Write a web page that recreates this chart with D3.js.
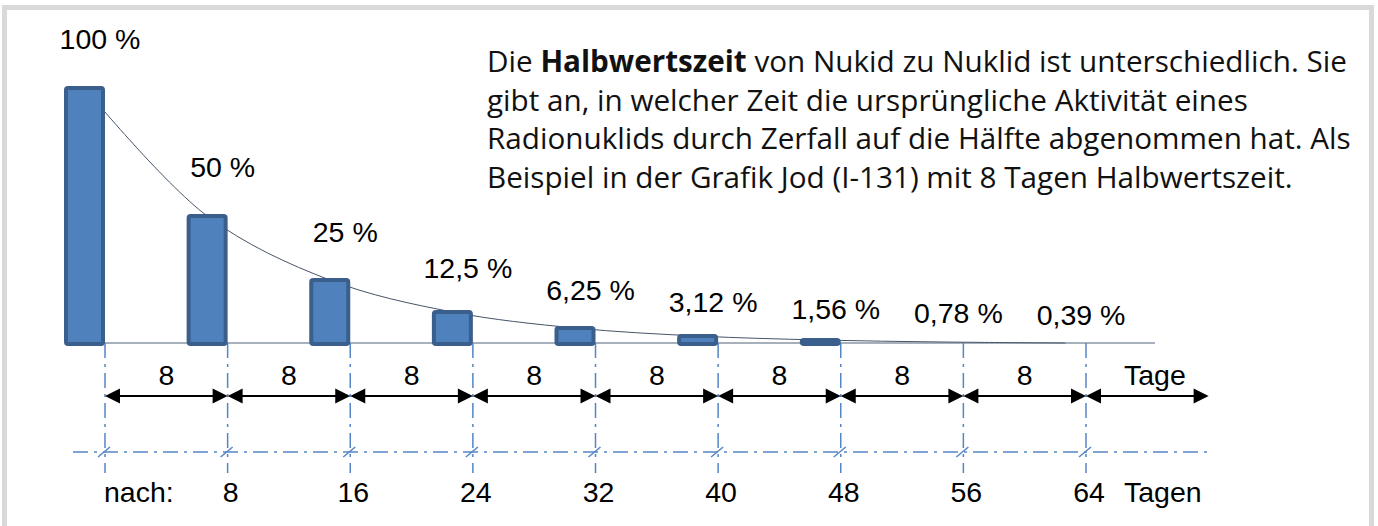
<!DOCTYPE html>
<html>
<head>
<meta charset="utf-8">
<script src="https://cdn.jsdelivr.net/npm/d3@7"></script>
<style>
  html, body { margin: 0; padding: 0; background: #fff; }
  svg { display: block; }
</style>
</head>
<body>
<div id="graph"></div>
<script>
// half-life steps (days) and remaining activity (%)
const days = [0, 8, 16, 24, 32, 40, 48, 56, 64];
const activity = [100, 50, 25, 12.5, 6.25, 3.12, 1.56, 0.78, 0.39];
const activityLabels = ["100 %", "50 %", "25 %", "12,5 %", "6,25 %", "3,12 %", "1,56 %", "0,78 %", "0,39 %"];
const barCount = 7;            // the last two are too small to draw
const stepLabel = "8";
const stepUnit = "Tage";
const afterLabel = "nach:";
const afterUnit = "Tagen";
const afterTicks = [8, 16, 24, 32, 40, 48, 56, 64];
const infoLines = [
  [["Die ", false], ["Halbwertszeit", true], [" von Nukid zu Nuklid ist unterschiedlich. Sie", false]],
  [["gibt an, in welcher Zeit die ursprüngliche Aktivität eines", false]],
  [["Radionuklids durch Zerfall auf die Hälfte abgenommen hat. Als", false]],
  [["Beispiel in der Grafik Jod (I-131) mit 8 Tagen Halbwertszeit.", false]]
];

const width = 1378, height = 526;
const blue = "#4f81bd", blueDark = "#3a5f8c", dashBlue = "#5485c6";
const numFont = "'Liberation Sans', Arial, sans-serif";
const numSize = "28.5px";

const svg = d3.select("#graph").append("svg")
  .attr("width", width)
  .attr("height", height);

/** frame */
svg.append("rect")
  .attr("x", 4.5).attr("y", 7.5)
  .attr("width", 1367).attr("height", 600)
  .attr("fill", "#fff")
  .attr("stroke", "#d9d9d9")
  .attr("stroke-width", 5);

/** scales */
const x = d3.scaleLinear().domain([0, 64]).range([105, 1086]);
const y = d3.scaleLinear().domain([0, 100]).range([344, 88]);
const barW = 37;
const baseY = y(0) - 1;
const arrowY = 396, guideY = 452, guideEnd = 473;

/** baseline */
svg.append("line")
  .attr("x1", x(0) - 40).attr("x2", x(68.5))
  .attr("y1", baseY).attr("y2", baseY)
  .attr("stroke", "#8a97a5")
  .attr("stroke-width", 1.5);

/** dash-dot guides */
const dashArr = "15,6,3,6";
svg.selectAll(".vguide")
  .data(days)
  .join("line")
  .attr("class", "vguide")
  .attr("x1", d => x(d)).attr("x2", d => x(d))
  .attr("y1", baseY).attr("y2", guideEnd)
  .attr("stroke", dashBlue)
  .attr("stroke-width", 1.5)
  .attr("stroke-dasharray", dashArr);

svg.append("line")
  .attr("x1", x(0) - 32).attr("x2", x(72))
  .attr("y1", guideY).attr("y2", guideY)
  .attr("stroke", dashBlue)
  .attr("stroke-width", 1.5)
  .attr("stroke-dasharray", dashArr);

svg.selectAll(".slash")
  .data(days)
  .join("line")
  .attr("class", "slash")
  .attr("x1", d => x(d) - 7).attr("x2", d => x(d) + 5)
  .attr("y1", guideY + 5).attr("y2", guideY - 5)
  .attr("stroke", dashBlue)
  .attr("stroke-width", 1.5);

/** decay curve through the bar tops */
const curvePts = days.map((d, i) => [x(d) - barW / 2 - 2, y(activity[i])]);
svg.append("path")
  .attr("d", d3.line().curve(d3.curveCatmullRom)(curvePts))
  .attr("fill", "none")
  .attr("stroke", "#46556a")
  .attr("stroke-width", 1);

/** bars */
const bars = days.slice(0, barCount).map((d, i) => ({ day: d, value: activity[i] }));
svg.selectAll(".bar")
  .data(bars)
  .join("rect")
  .attr("class", "bar")
  .attr("x", d => x(d.day) - barW - 2)
  .attr("y", d => y(d.value))
  .attr("width", barW)
  .attr("height", d => y(0) - y(d.value))
  .attr("rx", 2).attr("ry", 2)
  .attr("fill", blue)
  .attr("stroke", blueDark)
  .attr("stroke-width", 4);

/** percentage labels */
svg.selectAll(".pct")
  .data(days)
  .join("text")
  .attr("class", "pct")
  .attr("x", d => x(d) - 5)
  .attr("y", (d, i) => {
    const h = y(0) - y(activity[i]);
    const lift = Math.max(0, h + 20 - 22 * Math.exp(-h / 22));
    return 325 - lift;
  })
  .attr("text-anchor", "middle")
  .style("font-family", numFont)
  .style("font-size", numSize)
  .text((d, i) => activityLabels[i]);

/** step arrows */
const steps = days.map(d => [d, d + 8]);
const head = (tipX, dir) => {
  const b = tipX + dir * 15;
  return `M${tipX},${arrowY}L${b},${arrowY - 7.5}L${b},${arrowY + 7.5}Z`;
};
svg.selectAll(".shaft")
  .data(steps)
  .join("line")
  .attr("class", "shaft")
  .attr("x1", d => x(d[0]) + 8).attr("x2", d => x(d[1]) - 8)
  .attr("y1", arrowY).attr("y2", arrowY)
  .attr("stroke", "#000")
  .attr("stroke-width", 2);
svg.selectAll(".head")
  .data(steps.flatMap(d => [head(x(d[0]), 1), head(x(d[1]), -1)]))
  .join("path")
  .attr("class", "head")
  .attr("d", d => d)
  .attr("fill", "#000");

svg.selectAll(".stepLabel")
  .data(steps)
  .join("text")
  .attr("class", "stepLabel")
  .attr("x", d => d[0] === 64 ? x(64) + 38 : (x(d[0]) + x(d[1])) / 2)
  .attr("y", 385)
  .attr("text-anchor", d => d[0] === 64 ? "start" : "middle")
  .style("font-family", numFont)
  .style("font-size", numSize)
  .text(d => d[0] === 64 ? stepUnit : stepLabel);

/** "nach: ... Tagen" row */
svg.append("text")
  .attr("x", x(0) - 1).attr("y", 502)
  .style("font-family", numFont)
  .style("font-size", numSize)
  .text(afterLabel);

svg.selectAll(".after")
  .data(afterTicks)
  .join("text")
  .attr("class", "after")
  .attr("x", d => x(d) + 3)
  .attr("y", 502)
  .attr("text-anchor", "middle")
  .style("font-family", numFont)
  .style("font-size", numSize)
  .text(d => d);

svg.append("text")
  .attr("x", x(64) + 38).attr("y", 502)
  .style("font-family", numFont)
  .style("font-size", numSize)
  .text(afterUnit);

/** explanation text, sized so the first line spans the same width as the original */
const info = svg.append("g")
  .style("font-family", "'Open Sans', 'Noto Sans', sans-serif")
  .style("font-size", "26px")
  .style("fill", "#111");
const infoText = infoLines.map((parts, i) => {
  const t = info.append("text")
    .attr("x", 487)
    .attr("y", 72 + i * 38.6);
  parts.forEach(p => {
    t.append("tspan")
      .style("font-weight", p[1] ? 700 : 400)
      .text(p[0]);
  });
  return t;
});
const firstW = infoText[0].node().getComputedTextLength();
info.style("font-size", (26 * 860 / firstW).toFixed(2) + "px");
</script>
</body>
</html>
